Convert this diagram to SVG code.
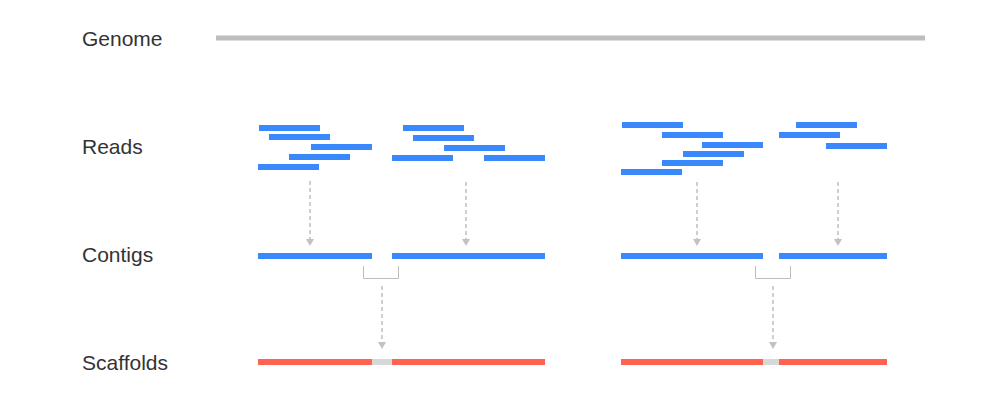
<svg xmlns="http://www.w3.org/2000/svg" width="993" height="419" viewBox="0 0 993 419">
<style>
.lbl{font-family:"Liberation Sans",Arial,sans-serif;font-size:21px;fill:#333}
.read{fill:#3a88fe}
.contig{fill:#3a88fe}
.scaf{fill:#ff6250}
.gap{fill:#d7d7d7}
.arr{stroke:#c2c2c2;stroke-width:1.6;stroke-dasharray:4 3;fill:none}
.brk{stroke:#bdbdbd;stroke-width:1;fill:none}
</style>
<defs>
<marker id="ah" viewBox="0 0 7 8" refX="0" refY="4" markerWidth="7" markerHeight="8" markerUnits="userSpaceOnUse" orient="auto">
<path d="M0,0 L7,4 L0,8 Z" fill="#c2c2c2"/>
</marker>
</defs>
<rect width="993" height="419" fill="#fff"/>
<g id="labels">
<text class="lbl" x="82" y="46">Genome</text>
<text class="lbl" x="82" y="154">Reads</text>
<text class="lbl" x="82" y="262">Contigs</text>
<text class="lbl" x="82" y="370">Scaffolds</text>
</g>
<g id="genome"><rect x="216" y="35.5" width="709" height="5" fill="#bdbdbd"/></g>
<g id="reads-left">
<rect class="read" x="259" y="125" width="61" height="6"/>
<rect class="read" x="269" y="134" width="61" height="6"/>
<rect class="read" x="311" y="144" width="61" height="6"/>
<rect class="read" x="289" y="154" width="61" height="6"/>
<rect class="read" x="258" y="164" width="61" height="6"/>
<rect class="read" x="403" y="125" width="61" height="6"/>
<rect class="read" x="413" y="135" width="61" height="6"/>
<rect class="read" x="444" y="145" width="61" height="6"/>
<rect class="read" x="392" y="155" width="61" height="6"/>
<rect class="read" x="484" y="155" width="61" height="6"/>
</g>
<g id="reads-right">
<rect class="read" x="622" y="122" width="61" height="6"/>
<rect class="read" x="662" y="132" width="61" height="6"/>
<rect class="read" x="702" y="142" width="61" height="6"/>
<rect class="read" x="683" y="151" width="61" height="6"/>
<rect class="read" x="662" y="160" width="61" height="6"/>
<rect class="read" x="621" y="169" width="61" height="6"/>
<rect class="read" x="796" y="122" width="61" height="6"/>
<rect class="read" x="779" y="132" width="61" height="6"/>
<rect class="read" x="826" y="143" width="61" height="6"/>
</g>
<g id="contigs-left">
<rect class="contig" x="258" y="253" width="114" height="6"/>
<rect class="contig" x="392" y="253" width="153" height="6"/>
<path class="brk" d="M363.5,266 V278.5 H398.5 V266"/>
</g>
<g id="contigs-right">
<rect class="contig" x="621" y="253" width="142" height="6"/>
<rect class="contig" x="779" y="253" width="108" height="6"/>
<path class="brk" d="M755.5,266 V278.5 H790.5 V266"/>
</g>
<g id="scaffolds-left">
<rect class="scaf" x="258" y="359" width="114" height="6"/>
<rect class="gap" x="372" y="359" width="20" height="6"/>
<rect class="scaf" x="392" y="359" width="153" height="6"/>
</g>
<g id="scaffolds-right">
<rect class="scaf" x="621" y="359" width="142" height="6"/>
<rect class="gap" x="763" y="359" width="16" height="6"/>
<rect class="scaf" x="779" y="359" width="108" height="6"/>
</g>
<g id="connectors">
<line class="arr" x1="310" y1="181" x2="310" y2="239" marker-end="url(#ah)"/>
<line class="arr" x1="466" y1="182" x2="466" y2="239" marker-end="url(#ah)"/>
<line class="arr" x1="697" y1="182" x2="697" y2="239" marker-end="url(#ah)"/>
<line class="arr" x1="838" y1="182" x2="838" y2="239" marker-end="url(#ah)"/>
<line class="arr" x1="382" y1="286" x2="382" y2="342" marker-end="url(#ah)"/>
<line class="arr" x1="773" y1="286" x2="773" y2="342" marker-end="url(#ah)"/>
</g>
</svg>
